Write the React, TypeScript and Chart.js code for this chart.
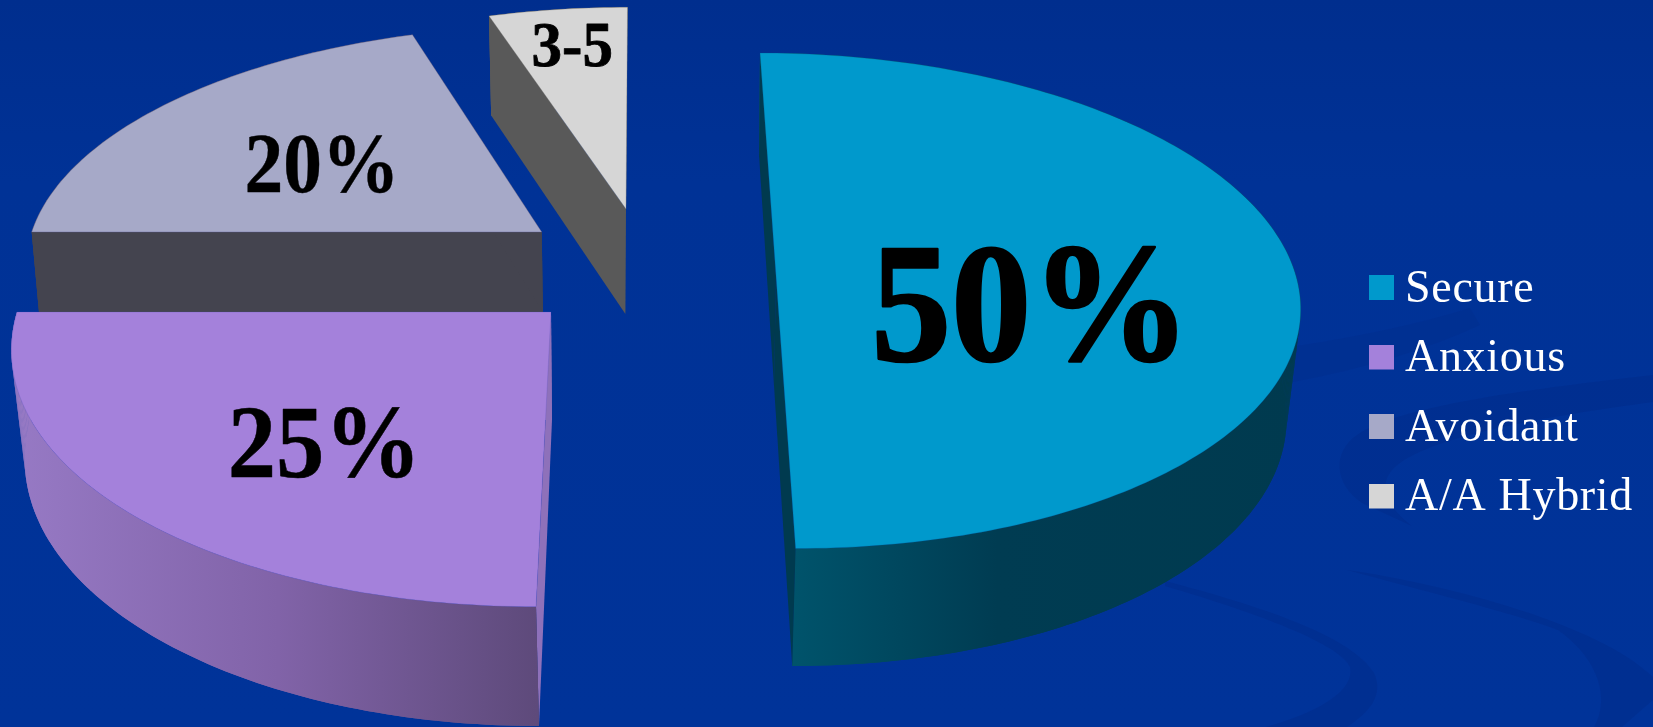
import React, { useEffect, useRef } from "react";
import { Chart, registerables } from "chart.js";

Chart.register(...registerables);

// Attachment style shares
const categories = ["Secure", "Anxious", "Avoidant", "A/A Hybrid"];
const shares = [50, 25, 20, 5];
const sliceLabels = ["50%", "25%", "20%", "3-5"];
const faceColors = ["#0099CC", "#A481DB", "#A6A9C8", "#D6D6D6"];

// Each wedge is pulled out of the pie and projected on its own: a plane is
// { o: centre, x: axis for cos, y: axis for sin, h: foreshortening along sin }.
type Plane = { o: number[]; x: number[]; y: number[]; h: number };
type Solid = {
  top: Plane;
  bottom: Plane;
  rim: [number, string][];
  rimSpan: number[];
  cut: string;
  cutInFront: boolean;
  edge: string;
  label: { x: number; y: number; size: number; squeeze: number; heft: number };
};

const solids: Solid[] = [
  {
    top: { o: [776, 276], x: [520, 0], y: [-60, 217.7], h: -0.1 },
    bottom: { o: [774, 385.5], x: [508, 0], y: [-61, 213.9], h: -0.1 },
    rim: [[0, "#00536B"], [0.4, "#003C52"], [1, "#003A4F"]],
    rimSpan: [795, 1300],
    cut: "#003A4F",
    cutInFront: true,
    edge: "rgba(0,80,130,0.25)",
    label: { x: 1031, y: 360, size: 170, squeeze: 0.939, heft: 2.5 },
  },
  {
    top: { o: [551, 312], x: [534, 0], y: [-79.3, 221.9], h: -0.12 },
    bottom: { o: [552, 420], x: [522, 0], y: [-77.7, 218.9], h: -0.12 },
    rim: [[0, "#9679C4"], [0.5, "#8163A8"], [1, "#5E4A7B"]],
    rimSpan: [20, 536],
    cut: "#8E71BA",
    cutInFront: false,
    edge: "rgba(70,70,190,0.2)",
    label: { x: 324.4, y: 476.5, size: 103, squeeze: 0.938, heft: 0.5 },
  },
  {
    top: { o: [541.7, 232], x: [510, 0], y: [-79.3, 203.3], h: -0.12 },
    bottom: { o: [543, 312], x: [504, 0], y: [-79.3, 203.3], h: -0.12 },
    rim: [[0, "#44444F"], [1, "#44444F"]],
    rimSpan: [30, 545],
    cut: "#44444F",
    cutInFront: false,
    edge: "rgba(90,90,150,0.35)",
    label: { x: 322.1, y: 192, size: 84.7, squeeze: 0.915, heft: 0.4 },
  },
  {
    top: { o: [626, 209], x: [499, 0.6], y: [-76.8, 200.8], h: -0.12 },
    bottom: { o: [625.4, 314], x: [486, 0], y: [-75.7, 195], h: -0.12 },
    rim: [[0, "#595959"], [1, "#595959"]],
    rimSpan: [480, 630],
    cut: "#595959",
    cutInFront: false,
    edge: "rgba(120,120,120,0.3)",
    label: { x: 572.3, y: 65.5, size: 63, squeeze: 0.97, heft: 0.8 },
  },
];

const paintOrder = [2, 3, 1, 0];

function project(p: Plane, u: number, v: number): [number, number] {
  const d = 1 + p.h * v;
  return [
    (p.o[0] + u * p.x[0] + v * p.y[0]) / d,
    (p.o[1] + u * p.x[1] + v * p.y[1]) / d,
  ];
}

function sampleArc(p: Plane, a0: number, a1: number): [number, number][] {
  const steps = Math.max(4, Math.ceil(((a1 - a0) * 180) / Math.PI));
  const pts: [number, number][] = [];
  for (let i = 0; i <= steps; i++) {
    const a = a0 + ((a1 - a0) * i) / steps;
    pts.push(project(p, Math.cos(a), Math.sin(a)));
  }
  return pts;
}

function tracePolygon(ctx: CanvasRenderingContext2D, pts: [number, number][]) {
  ctx.beginPath();
  pts.forEach(([x, y], i) => (i ? ctx.lineTo(x, y) : ctx.moveTo(x, y)));
  ctx.closePath();
}

function drawSolid(ctx: CanvasRenderingContext2D, s: Solid, a0: number, a1: number) {
  const topRim = sampleArc(s.top, a0, a1);
  const bottomRim = sampleArc(s.bottom, a0, a1);
  const topC = project(s.top, 0, 0);
  const botC = project(s.bottom, 0, 0);

  const cutWalls = () => {
    ctx.fillStyle = s.cut;
    tracePolygon(ctx, [topC, topRim[0], bottomRim[0], botC]);
    ctx.fill();
    tracePolygon(ctx, [topC, topRim[topRim.length - 1], bottomRim[bottomRim.length - 1], botC]);
    ctx.fill();
  };

  if (!s.cutInFront) cutWalls();

  // outer wall
  const g = ctx.createLinearGradient(s.rimSpan[0], 0, s.rimSpan[1], 0);
  s.rim.forEach(([t, c]) => g.addColorStop(t, c));
  ctx.fillStyle = g;
  tracePolygon(ctx, [...topRim, ...[...bottomRim].reverse()]);
  ctx.fill();
  for (let i = 0; i < topRim.length - 1; i++) {
    tracePolygon(ctx, [topRim[i], topRim[i + 1], bottomRim[i + 1], bottomRim[i]]);
    ctx.fill();
  }

  if (s.cutInFront) {
    // only the far half of the cut shows on this wedge; the near half keeps the lit wall
    ctx.save();
    ctx.beginPath();
    ctx.rect(0, 0, chartWidthLimit(topC, botC), 2000);
    ctx.clip();
    cutWalls();
    ctx.restore();
  }
}

// Right limit of the visible cut wall, the line joining the chord ends
function chartWidthLimit(topC: [number, number], botC: [number, number]) {
  return Math.max(topC[0], botC[0]) + 20;
}

function drawFace(
  ctx: CanvasRenderingContext2D,
  s: Solid,
  a0: number,
  a1: number,
  color: string,
) {
  tracePolygon(ctx, [project(s.top, 0, 0), ...sampleArc(s.top, a0, a1)]);
  ctx.fillStyle = color;
  ctx.fill();
  ctx.strokeStyle = s.edge;
  ctx.lineWidth = 1;
  ctx.stroke();
}

// Slide background with its faint swirls
const backdrop = {
  id: "backdrop",
  beforeDraw(chart: Chart) {
    const ctx = chart.ctx;
    const { width, height } = chart;
    ctx.save();
    const g = ctx.createLinearGradient(0, 0, 0, height);
    g.addColorStop(0, "#002E8E");
    g.addColorStop(0.25, "#003296");
    g.addColorStop(1, "#003399");
    ctx.fillStyle = g;
    ctx.fillRect(0, 0, width, height);

    ctx.fillStyle = "rgba(0,38,125,0.27)";

    ctx.beginPath();
    ctx.moveTo(1653, 375);
    ctx.bezierCurveTo(1540, 388, 1400, 405, 1357, 435);
    ctx.bezierCurveTo(1332, 452, 1334, 484, 1362, 503);
    ctx.lineTo(1412, 526);
    ctx.bezierCurveTo(1385, 505, 1378, 485, 1393, 469);
    ctx.bezierCurveTo(1425, 436, 1550, 416, 1653, 402);
    ctx.closePath();
    ctx.fill();

    ctx.beginPath();
    ctx.moveTo(1347, 570);
    ctx.bezierCurveTo(1450, 585, 1600, 625, 1653, 677);
    ctx.lineTo(1653, 700);
    ctx.lineTo(1622, 727);
    ctx.lineTo(1594, 727);
    ctx.bezierCurveTo(1610, 700, 1600, 660, 1558, 630);
    ctx.bezierCurveTo(1510, 612, 1420, 590, 1347, 570);
    ctx.closePath();
    ctx.fill();

    ctx.beginPath();
    ctx.moveTo(1165, 581);
    ctx.bezierCurveTo(1260, 606, 1352, 636, 1374, 673);
    ctx.bezierCurveTo(1384, 695, 1370, 712, 1347, 727);
    ctx.lineTo(1266, 727);
    ctx.bezierCurveTo(1320, 712, 1355, 690, 1350, 667);
    ctx.bezierCurveTo(1340, 644, 1260, 614, 1165, 586);
    ctx.closePath();
    ctx.fill();

    ctx.fillStyle = "rgba(0,38,125,0.18)";
    ctx.beginPath();
    ctx.moveTo(1297, 346);
    ctx.quadraticCurveTo(1400, 330, 1470, 308);
    ctx.lineTo(1480, 325);
    ctx.quadraticCurveTo(1400, 362, 1293, 382);
    ctx.closePath();
    ctx.fill();
    ctx.restore();
  },
};

// Extruded wedges, built from the angles of the pie's own arc elements
const wedges = {
  id: "wedges",
  beforeDatasetDraw(chart: Chart) {
    const ctx = chart.ctx;
    const arcs = chart.getDatasetMeta(0).data as any[];
    ctx.save();
    paintOrder.forEach((i) => {
      const { startAngle, endAngle } = arcs[i].getProps(["startAngle", "endAngle"], true);
      drawSolid(ctx, solids[i], startAngle, endAngle);
      drawFace(ctx, solids[i], startAngle, endAngle, faceColors[i]);
    });
    ctx.restore();
    return false;
  },
  afterDatasetsDraw(chart: Chart) {
    const ctx = chart.ctx;
    ctx.save();
    (ctx as any).letterSpacing = "0px";
    ctx.fillStyle = "#000000";
    ctx.strokeStyle = "#000000";
    ctx.lineJoin = "round";
    ctx.textAlign = "center";
    ctx.textBaseline = "alphabetic";
    sliceLabels.forEach((text, i) => {
      const { x, y, size, squeeze, heft } = solids[i].label;
      ctx.save();
      ctx.translate(x, y);
      ctx.scale(squeeze, 1);
      ctx.font = `bold ${size}px "Liberation Serif", serif`;
      ctx.lineWidth = heft;
      ctx.fillText(text, 0, 0);
      ctx.strokeText(text, 0, 0);
      ctx.restore();
    });
    ctx.restore();
  },
};

// Places the legend column and sets its tracking before it is measured
const legendPlacement = {
  id: "legendPlacement",
  beforeLayout(chart: Chart) {
    (chart.ctx as any).letterSpacing = "0.7px";
  },
  beforeDraw(chart: Chart) {
    (chart.ctx as any).letterSpacing = "0.7px";
  },
  afterLayout(chart: Chart) {
    const legend = chart.legend as any;
    const w = legend.right - legend.left;
    const h = legend.bottom - legend.top;
    legend.left = 1357.5;
    legend.right = legend.left + w;
    legend.top = 243;
    legend.bottom = legend.top + h;
  },
};

// Legend key: the square sits at the top of a taller tile so the names hang lower
function swatch(color: string) {
  const c = document.createElement("canvas");
  c.width = 25;
  c.height = 29;
  const x = c.getContext("2d")!;
  x.fillStyle = color;
  x.fillRect(0, 0, 25, 25);
  return c;
}

export default function App() {
  const ref = useRef<HTMLCanvasElement>(null);

  useEffect(() => {
    const chart = new Chart(ref.current!, {
      type: "pie",
      data: {
        labels: categories,
        datasets: [{ data: shares, backgroundColor: faceColors, borderWidth: 0 }],
      },
      options: {
        responsive: false,
        animation: false,
        plugins: {
          tooltip: { enabled: false },
          legend: {
            position: "right",
            align: "start",
            labels: {
              usePointStyle: true,
              pointStyleWidth: 1,
              padding: 23.5,
              color: "#FFFFFF",
              font: { family: '"Liberation Serif", serif', size: 46 },
              generateLabels: () =>
                categories.map((text, i) => ({
                  text,
                  fillStyle: faceColors[i],
                  strokeStyle: faceColors[i],
                  fontColor: "#FFFFFF",
                  lineWidth: 0,
                  hidden: false,
                  index: i,
                  pointStyle: swatch(faceColors[i]),
                })),
            },
          },
        },
      } as any,
      plugins: [backdrop, legendPlacement, wedges] as any,
    });
    return () => chart.destroy();
  }, []);

  return (
    <canvas
      ref={ref}
      width={1653}
      height={727}
      style={{ position: "fixed", left: 0, top: 0, display: "block" }}
    />
  );
}
